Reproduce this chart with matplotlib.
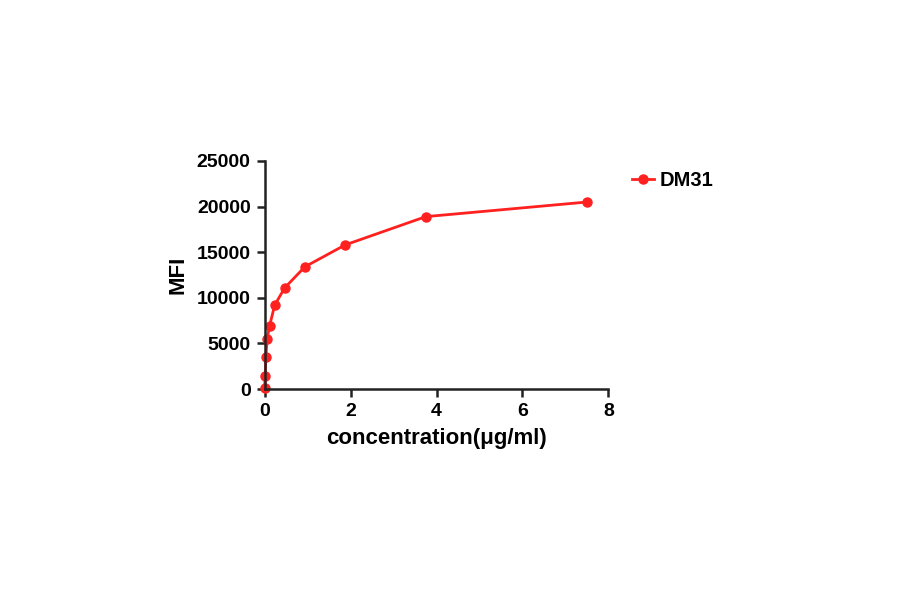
import matplotlib
matplotlib.use("Agg")
from matplotlib import pyplot as plt

# concentration series (2-fold dilutions) and MFI readings
conc = [7.5, 3.75, 1.875, 0.9375, 0.46875, 0.234375, 0.1171875,
        0.05859375, 0.029296875, 0.0146484375, 0.0]
mfi = [20500, 18900, 15800, 13400, 11100, 9200, 6950, 5500, 3500, 1400, 150]
label = "DM31"

plt.rcParams['font.family'] = ['Liberation Sans', 'DejaVu Sans']
plt.rcParams['font.weight'] = 'bold'

fig = plt.figure(figsize=(9, 5.94), dpi=100)
ax = fig.add_axes([0.294, 0.345, 0.382, 0.384])
ax.plot(conc, mfi, color='#ff2020', marker='o', markersize=6.5,
        linewidth=2, label=label, clip_on=False)

ax.set_xlim(0, 8)
ax.set_ylim(0, 25000)
ax.set_xticks([0, 2, 4, 6, 8])
ax.set_yticks([0, 5000, 10000, 15000, 20000, 25000])
ax.spines['top'].set_visible(False)
ax.spines['right'].set_visible(False)
for s in ['left', 'bottom']:
    ax.spines[s].set_linewidth(1.8)
    ax.spines[s].set_color('#222222')
ax.tick_params(width=1.8, length=6, labelsize=14, color='#222222', pad=4)
for t in ax.get_xticklabels() + ax.get_yticklabels():
    t.set_fontweight('bold')

ax.set_xlabel('concentration(μg/ml)', fontsize=16, fontweight='bold', labelpad=6)
ax.set_ylabel('MFI', fontsize=16, fontweight='bold', labelpad=6)

leg = ax.legend(loc='upper left', bbox_to_anchor=(1.045, 0.99), frameon=False,
                prop={'size': 14.5, 'weight': 'bold'}, handlelength=1.1,
                handletextpad=0.3, borderaxespad=0)

fig.savefig('out.png', dpi=100, facecolor='white')
